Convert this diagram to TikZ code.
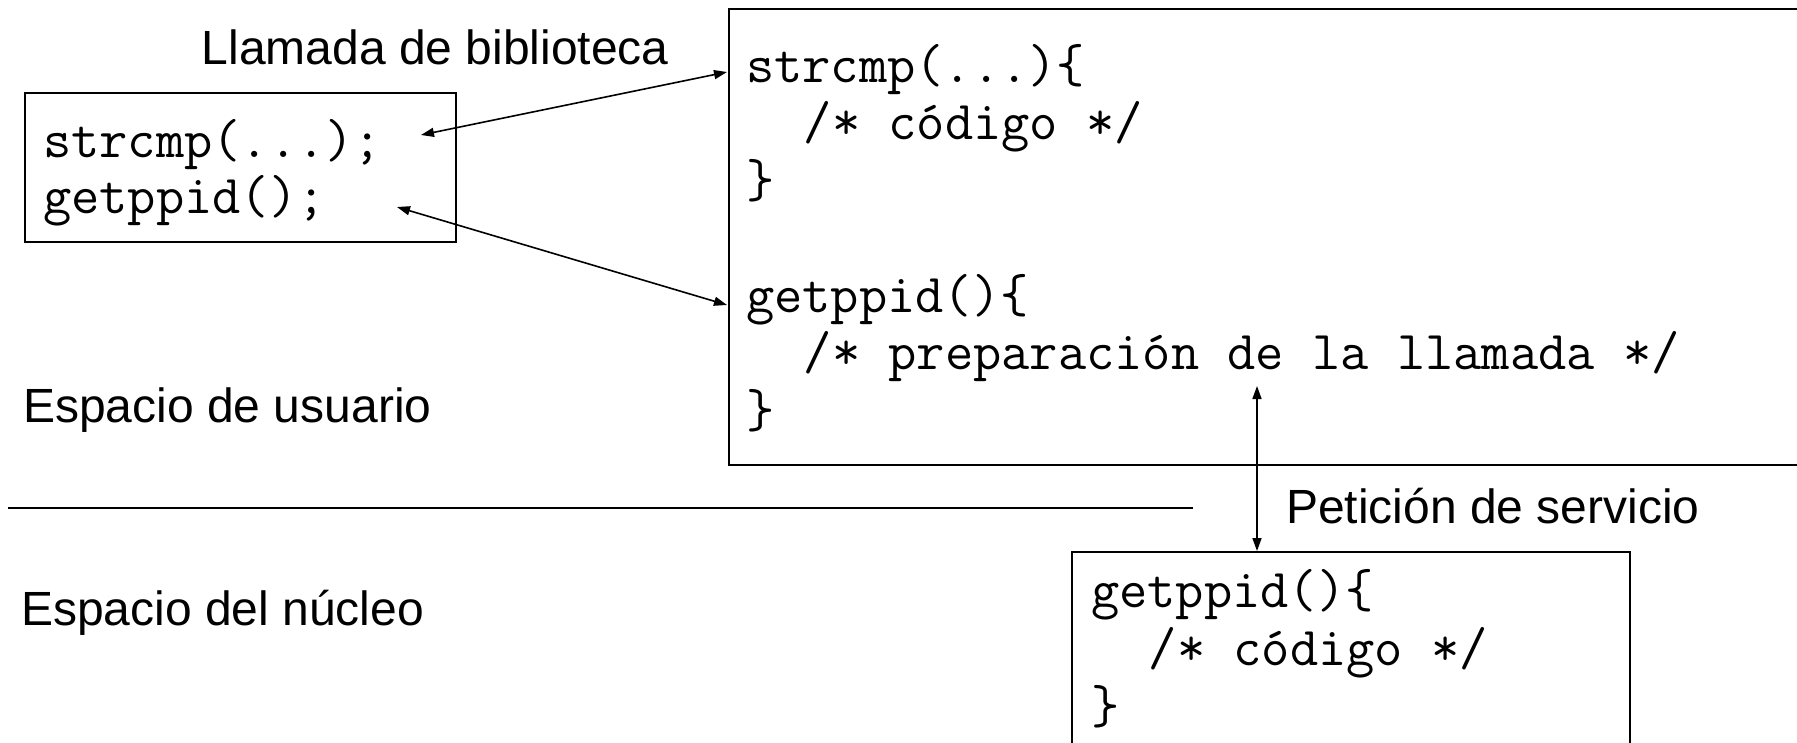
\documentclass[tikz,border=0pt]{standalone}
\usepackage{fontspec}
\setmainfont{Liberation Sans}
\usetikzlibrary{arrows.meta}
\begin{document}
\begin{tikzpicture}[x=1pt,y=-1pt,
  box/.style={draw=black, line width=1.8pt, inner sep=0pt, outer sep=0pt, anchor=north west},
  lbl/.style={font=\fontsize{48}{57.5}\selectfont, inner sep=0pt, anchor=base west},
  code/.style={font=\fontsize{54.86}{57.5}\selectfont\ttfamily, inner sep=0pt, anchor=base west},
  link/.style={line width=1.6pt, {Triangle[length=13pt,width=9pt]}-{Triangle[length=13pt,width=9pt]}},
  sep/.style={line width=1.8pt}
]
\useasboundingbox[fill=white] (0,0) rectangle (1797,742);

% boxes
\node[box, minimum width=431pt, minimum height=149pt] (lib) at (25,93) {};
\node[box, minimum width=1080pt, minimum height=456pt] (user) at (729,9) {};
\node[box, minimum width=558pt, minimum height=230pt] (kern) at (1072,552) {};

% labels
\node[lbl] (llam) at (201.5,64) {Llamada de biblioteca};
\node[lbl] (eu) at (23,422) {Espacio de usuario};
\node[lbl] (en) at (21,625) {Espacio del núcleo};
\node[lbl] (pet) at (1286,523) {Petición de servicio};

% left box code
\node[code] (l1) at (43,157) {strcmp(...);};
\node[code] (l2) at (43,213) {getppid();};

% user-space library code
\node[code] (u1) at (746,82) {strcmp(...)\{};
\node[code] (u2) at (803.6,139.5) {/* código */};
\node[code] (u3) at (746,197) {\}};
\node[code] (u4) at (746,312) {getppid()\{};
\node[code] (u5) at (803.6,369.5) {/* preparación de la llamada */};
\node[code] (u6) at (746,427) {\}};

% kernel code
\node[code] (k1) at (1091,607) {getppid()\{};
\node[code] (k2) at (1148.6,665) {/* código */};
\node[code] (k3) at (1091,723) {\}};

% connector ends
\coordinate (a1l) at (421,135);
\coordinate (a1r) at (727,72);
\coordinate (a2l) at (397,207);
\coordinate (a2r) at (727,305);
\coordinate (a3t) at (1257,386);
\coordinate (a3b) at (1257,551);
\coordinate (sl) at (8,508);
\coordinate (sr) at (1193,508);

\draw[link] (a1l) -- (a1r);
\draw[link] (a2l) -- (a2r);
\draw[link] (a3t) -- (a3b);
\draw[sep] (sl) -- (sr);
\end{tikzpicture}
\end{document}
